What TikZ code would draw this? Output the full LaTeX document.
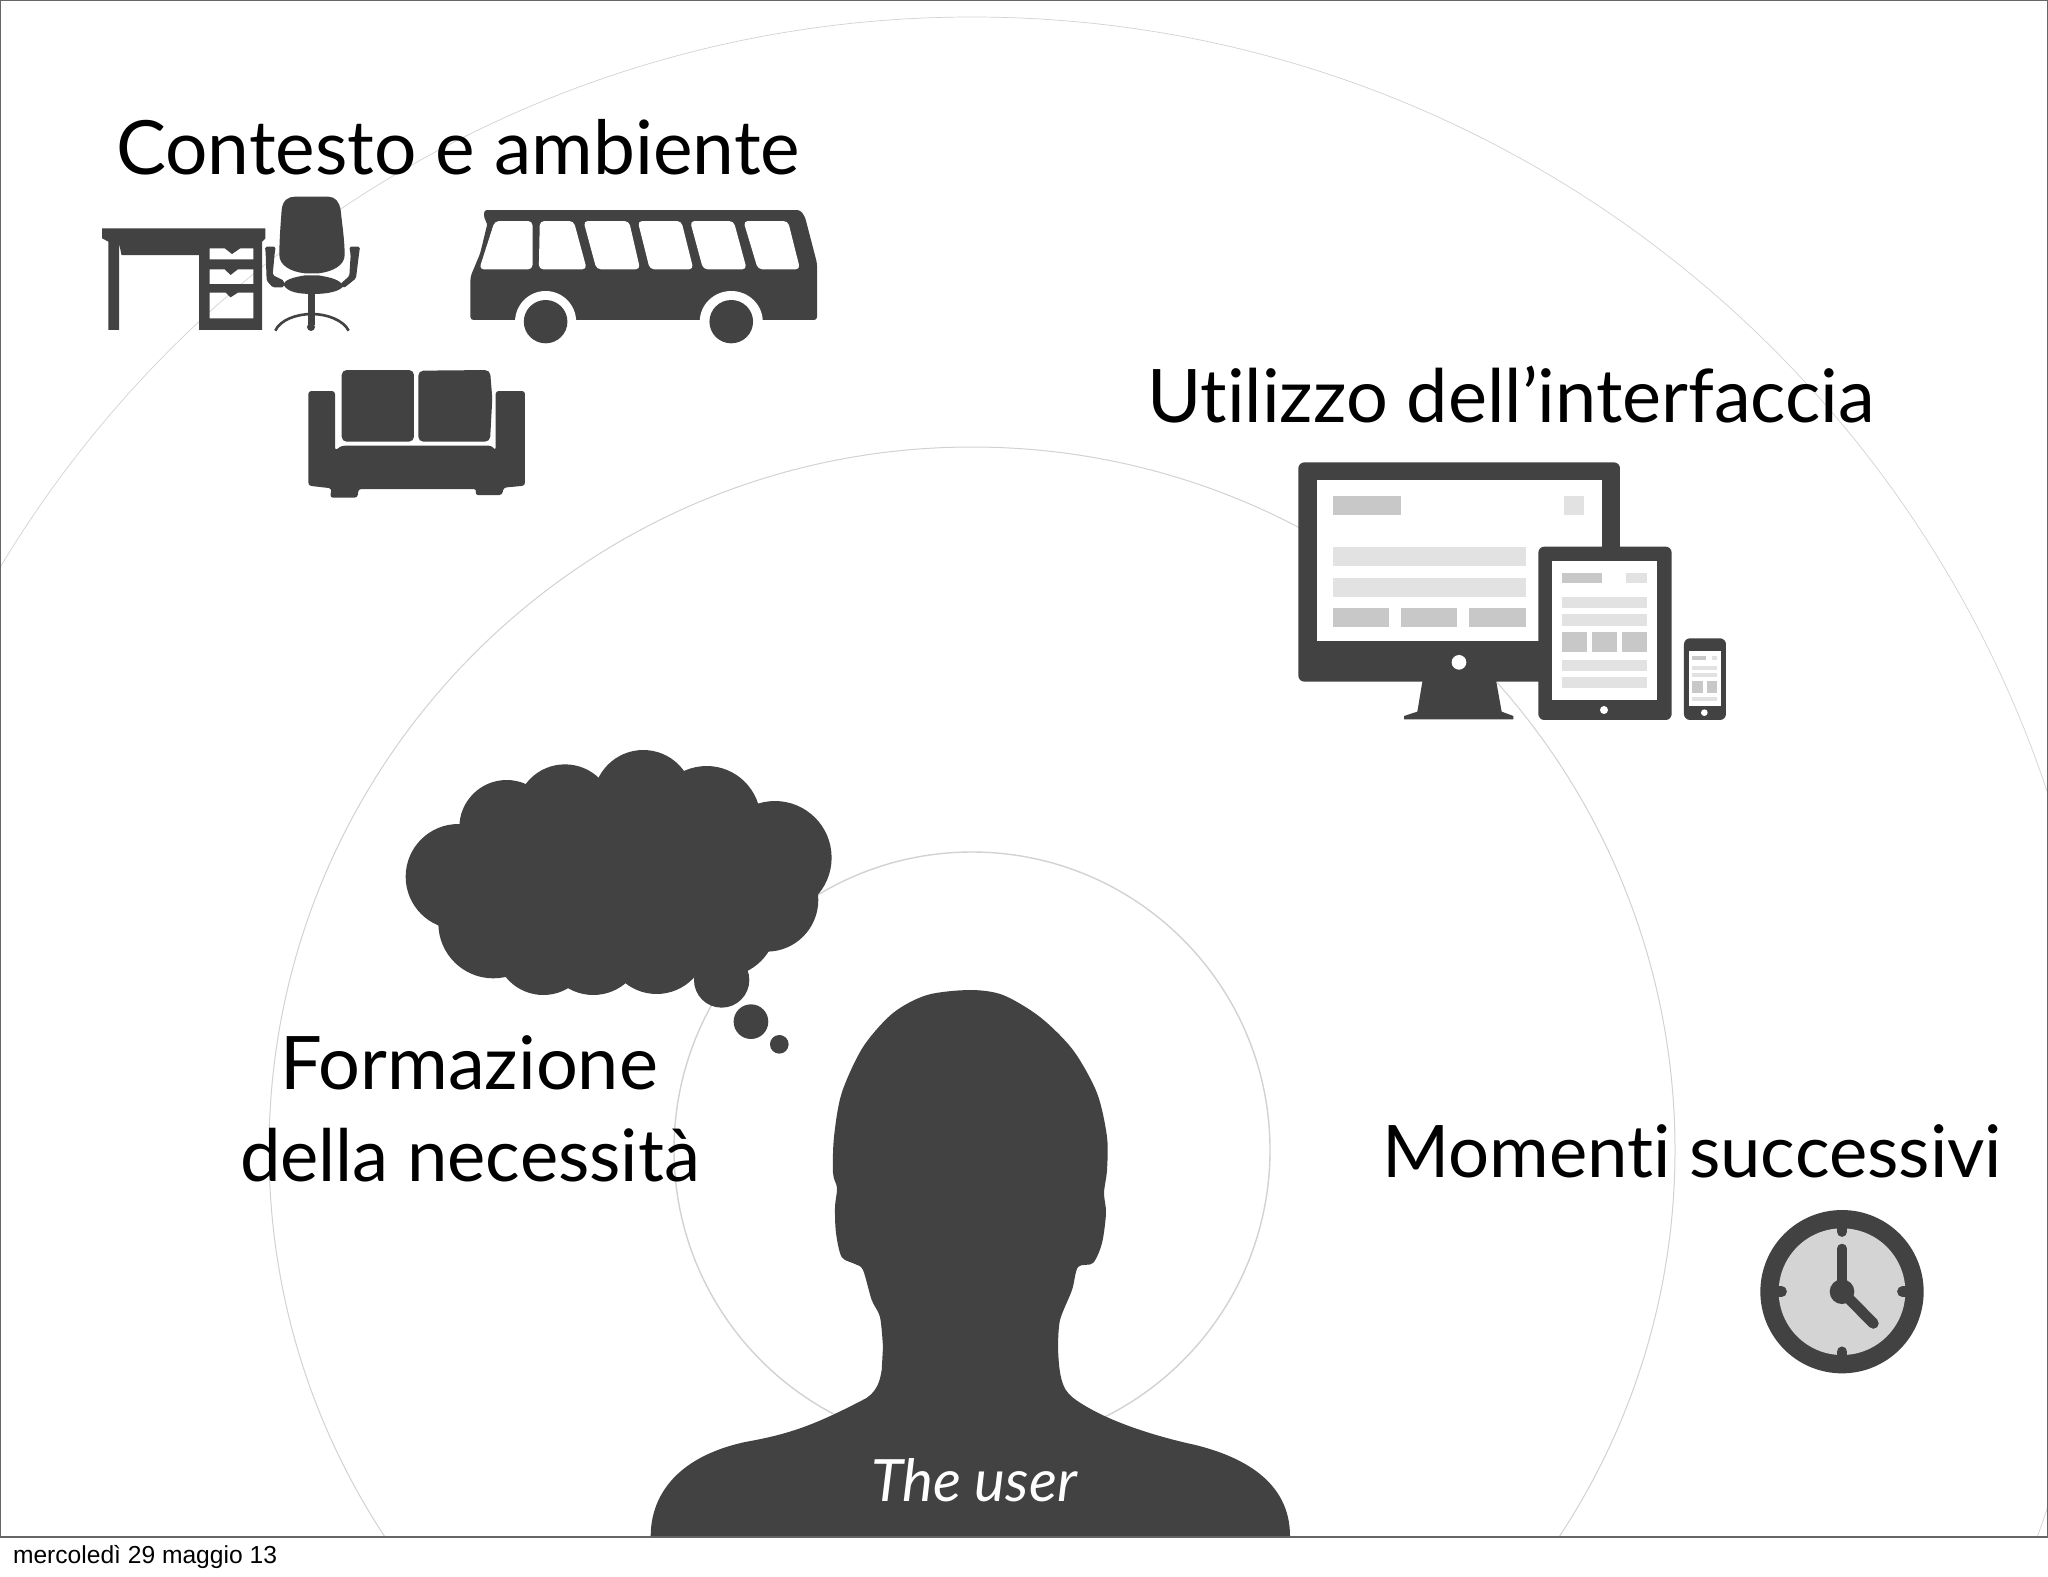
\documentclass[tikz,border=0pt]{standalone}
\usepackage{fontspec}
\usepackage{graphicx}
\setmainfont[Ligatures={NoCommon}]{Lato}
\newfontfamily\stampfont{Liberation Sans}
\definecolor{ic}{HTML}{424242}
\definecolor{ringc}{HTML}{D2D2D2}
\definecolor{barA}{HTML}{C8C8C8}
\definecolor{barB}{HTML}{E2E2E2}
\definecolor{faceC}{HTML}{D4D4D4}
\definecolor{framec}{HTML}{666666}
\newcommand{\fitw}[2]{\resizebox{#1}{!}{#2}}
\tikzset{
  x=0.5pt,y=-0.5pt,
  zoomA/.style={shift={(90,180)},xscale=0.4847,yscale=0.3333},
  zoomB/.style={shift={(1280,450)},xscale=0.3333,yscale=0.3333},
  zoomC/.style={shift={(390,730)},xscale=0.3333,yscale=0.3333},
  zoomE/.style={shift={(1740,1200)},xscale=0.3333,yscale=0.3333},
  zoomH/.style={shift={(250,190)},xscale=0.3333,yscale=0.3333},
  zoomS/.style={shift={(295,355)},xscale=0.3333,yscale=0.3333},
  ring/.style={draw=ringc,line width=0.5pt},
  label/.style={inner sep=0pt,outer sep=0pt,anchor=base west,text=black},
}
\begin{document}
\begin{tikzpicture}
\useasboundingbox (0,0) rectangle (2048,1576);
\fill[white] (0,0) rectangle (2048,1576);
% rings
\begin{scope}
\clip (0,0) rectangle (2048,1536);
\draw[ring,line width=0.7pt] (972,1150) circle[radius=298];
\draw[ring] (972,1150) circle[radius=703];
\draw[ring,line width=0.35pt] (972,1150) circle[radius=1133];
\end{scope}
% frame
\draw[framec,line width=0.5pt] (0.5,1536.5) -- (0.5,0.5) -- (2047.5,0.5) -- (2047.5,1536.5);
\draw[framec,line width=1pt] (0,1536.5) -- (2048,1536.5);
% desk
\begin{scope}[zoomA]
\fill[ic,even odd rule] (25,145)--(362,145)--(362,175)--(355,185)--(355,450)--(225,450)--(225,225)--(65,225)--(60,190)--(60,450)--(38,450)--(38,185)--(25,175)--cycle
 (247,205)--(278,205)--(293,222)--(310,205)--(337,205)--(337,238)--(247,238)--cycle
 (247,268)--(278,268)--(290,285)--(305,268)--(337,268)--(337,312)--(247,312)--cycle
 (247,338)--(280,338)--(290,352)--(305,338)--(337,338)--(337,415)--(247,415)--cycle;
% bus
\fill[ic,rounded corners=1.5pt] (813,90) -- (1465,90) -- (1475,110) -- (1500,250) -- (1500,420) -- (785,420) -- (785,290) -- (805,220) -- (820,130) -- (813,115) -- cycle;
\fill[white,rounded corners=2.2pt] (835,123)--(913,123)--(913,268)--(803,268)--cycle;
\fill[white,rounded corners=2.2pt] (928,123)--(998,123)--(1025,268)--(926,268)--cycle;
\fill[white,rounded corners=2.2pt] (1018,123)--(1112,123)--(1135,268)--(1045,268)--cycle;
\fill[white,rounded corners=2.2pt] (1130,123)--(1220,123)--(1245,268)--(1155,268)--cycle;
\fill[white,rounded corners=2.2pt] (1238,123)--(1328,123)--(1355,268)--(1265,268)--cycle;
\fill[white,rounded corners=2.2pt] (1348,123)--(1440,123)--(1465,268)--(1378,268)--cycle;
\fill[white] (940,425) circle[x radius=63,y radius=92];
\fill[white] (1323,425) circle[x radius=65,y radius=92];
\fill[ic] (940,425) circle[x radius=45,y radius=65];
\fill[ic] (1323,425) circle[x radius=45,y radius=65];
\end{scope}
% chair
\begin{scope}[zoomH]
\fill[ic] (95,60) .. controls (98,30) and (115,20) .. (135,20) -- (235,20) .. controls (255,20) and (268,35) .. (272,60) .. controls (276,100) and (284,150) .. (284,195) .. controls (284,225) and (250,245) .. (205,250) -- (165,250) .. controls (120,245) and (88,225) .. (88,195) .. controls (88,150) and (92,100) .. (95,60) -- cycle;
\fill[ic] (100,282) .. controls (108,268) and (130,262) .. (165,256) -- (205,256) .. controls (240,262) and (270,268) .. (280,288) .. controls (270,305) and (230,312) .. (190,312) .. controls (150,312) and (110,308) .. (100,282) -- cycle;
\fill[ic,rounded corners=0.8pt] (45,170)--(77,170)--(74,190)--(68,255)--(102,272)--(102,292)--(68,292)--(50,272)--(47,190)--cycle;
\fill[ic,rounded corners=0.8pt] (298,170)--(330,170)--(326,200)--(318,265)--(282,294)--(268,285)--(298,258)--(302,195)--cycle;
\fill[ic] (175,308) rectangle (195,405);
\fill[ic] (183,411) circle[radius=12];
\draw[ic,line width=1.3pt] (76,422) .. controls (90,390) and (140,372) .. (185,372) .. controls (230,372) and (280,390) .. (296,422);
\end{scope}
% sofa
\begin{scope}[zoomS]
\fill[ic,rounded corners=1.5pt] (40,108)--(120,108)--(120,287)--(140,272)--(590,272)--(602,287)--(602,108)--(690,108)--(690,392)--(625,398)--(622,420)--(540,420)--(545,402)--(190,402)--(188,428)--(105,428)--(110,400)--(40,392)--cycle;
\fill[ic,rounded corners=2.5pt] (140,45)--(357,45)--(357,260)--(140,260)--cycle;
\fill[ic,rounded corners=2.5pt] (370,47)--(585,45)--(592,130)--(585,260)--(370,260)--cycle;
\end{scope}
% devices
\begin{scope}[zoomB]
\fill[ic,rounded corners=3pt] (55,37) rectangle (1020,695);
\fill[white] (110,90) rectangle (965,572);
\fill[ic] (428,690)--(648,690)--(665,785)--(700,798)--(700,808)--(372,808)--(372,798)--(412,785)--cycle;
\fill[white] (537,637) circle[radius=22];
\fill[barA] (158,138) rectangle (363,196);
\fill[barB] (853,138) rectangle (913,196);
\fill[barB] (158,290) rectangle (737,347);
\fill[barB] (158,383) rectangle (737,440);
\fill[barA] (158,475) rectangle (327,532);
\fill[barA] (363,475) rectangle (531,532);
\fill[barA] (567,475) rectangle (737,532);
\fill[ic,rounded corners=3pt] (775,290) rectangle (1175,810);
\fill[white] (817,333) rectangle (1130,750);
\fill[barA] (847,368) rectangle (965,398);
\fill[barB] (1038,368) rectangle (1100,398);
\fill[barB] (847,442) rectangle (1100,475);
\fill[barB] (847,493) rectangle (1100,527);
\fill[barA] (847,547) rectangle (920,607);
\fill[barA] (937,547) rectangle (1010,607);
\fill[barA] (1027,547) rectangle (1100,607);
\fill[barB] (847,630) rectangle (1100,662);
\fill[barB] (847,682) rectangle (1100,715);
\fill[white] (972,780) circle[radius=12];
\fill[ic,rounded corners=3pt] (1212,565) rectangle (1338,810);
\fill[white] (1226,602) rectangle (1324,767);
\fill[barA] (1236,617) rectangle (1278,629);
\fill[barB] (1296,617) rectangle (1312,629);
\fill[barB] (1236,648) rectangle (1312,660);
\fill[barB] (1236,670) rectangle (1312,682);
\fill[barA] (1236,692) rectangle (1270,728);
\fill[barA] (1280,692) rectangle (1312,728);
\fill[barB] (1236,740) rectangle (1312,752);
\fill[white] (1273,788) circle[radius=10];
\end{scope}
% thought cloud
\begin{scope}[zoomC]
\fill[ic] (205,440) circle[radius=158];
\fill[ic] (350,292) circle[radius=142];
\fill[ic] (525,250) circle[radius=147];
\fill[ic] (760,210) circle[radius=150];
\fill[ic] (950,270) circle[radius=162];
\fill[ic] (1155,383) circle[radius=170];
\fill[ic] (1130,510) circle[radius=155];
\fill[ic] (1000,580) circle[radius=160];
\fill[ic] (800,640) circle[radius=152];
\fill[ic] (610,645) circle[radius=150];
\fill[ic] (460,650) circle[radius=145];
\fill[ic] (310,580) circle[radius=165];
\fill[ic] (300,300) rectangle (1000,700);
\fill[ic] (995,750) circle[radius=83];
\fill[ic] (1083,875) circle[radius=52];
\fill[ic] (1168,943) circle[radius=28];
\end{scope}
% person
\fill[ic] (650.7,1536) .. controls (650.7,1500) and (672,1458) .. (745,1442) .. controls (790,1434) and (815,1425) .. (866.5,1398) .. controls (878,1390) and (880,1380) .. (881.7,1370) -- plot[smooth,tension=0.5] coordinates {(883,1347) (880,1317) (871.7,1300) (863,1270) (855,1264) (841.7,1257) (836,1233) (835,1207) (837,1188) (833,1173) (834,1137) (841.7,1093) (863,1047) (893,1013) (927,995) (970,990) (1003,995) (1040,1017) (1073,1050) (1097,1093) (1107,1137) (1107,1170) (1104,1193) (1106,1213) (1102,1243) (1093,1263) (1078,1267) (1072,1290) (1060,1320) (1058,1347)} .. controls (1059,1385) and (1065,1392) .. (1076,1400) .. controls (1105,1420) and (1150,1435) .. (1195.5,1445) .. controls (1240,1456) and (1290,1480) .. (1290,1536) -- cycle;
% clock
\begin{scope}[zoomE]
\fill[ic] (306,275) circle[radius=245];
\fill[faceC] (306,275) circle[radius=190];
\draw[ic,line width=5.2pt,line cap=round] (306,85) -- (306,95);
\draw[ic,line width=5.2pt,line cap=round] (306,455) -- (306,465);
\draw[ic,line width=5.2pt,line cap=round] (116,275) -- (125,275);
\draw[ic,line width=5.2pt,line cap=round] (487,275) -- (496,275);
\draw[ic,line width=4.6pt,line cap=round] (306,275) -- (306,145);
\draw[ic,line width=5.4pt,line cap=round] (306,275) -- (400,370);
\fill[ic] (306,275) circle[radius=37];
\end{scope}
% labels
\node[label] (ctx) at (116,174) {\fitw{342pt}{Contesto e ambiente}};
\node[label] (ui) at (1147,422) {\fitw{364pt}{Utilizzo dell’interfaccia}};
\node[label] (f1) at (280,1089) {\fitw{189pt}{Formazione}};
\node[label] (f2) at (240,1181) {\fitw{230pt}{della necessità}};
\node[label] (next) at (1382,1177) {\fitw{310pt}{Momenti successivi}};
\node[label,text=white] (usr) at (871,1501) {\fitw{103pt}{\itshape The user}};
\node[label,text=black] (stamp) at (13,1563) {\fitw{132pt}{\stampfont mercoledì 29 maggio 13}};
\end{tikzpicture}
\end{document}
